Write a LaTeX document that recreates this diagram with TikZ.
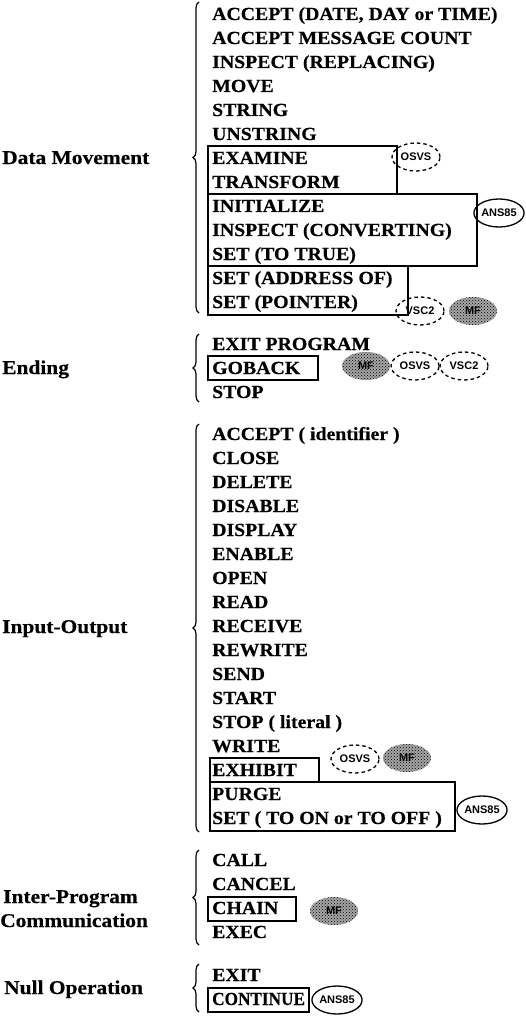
\documentclass[tikz,border=0pt]{standalone}
\usepackage{fontspec}
\setmainfont{Liberation Serif}
\newfontfamily\itemfont{Liberation Serif}[FakeStretch=1.07, FakeBold=0.4]
\newfontfamily\labelfont{Liberation Serif}[FakeStretch=1.1, FakeBold=0.4]
\newfontfamily\tagfont{Liberation Sans}
\usetikzlibrary{shapes.geometric, patterns, decorations.pathreplacing}

\begin{document}
\begin{tikzpicture}[
  x=1pt, y=-1pt,
  item/.style={anchor=base west, inner sep=0pt, font=\itemfont\bfseries\fontsize{18.5}{24}\selectfont},
  label/.style={anchor=base west, inner sep=0pt, font=\labelfont\bfseries\fontsize{19.5}{24}\selectfont},
  itembox/.style={draw=black, line width=1.4pt},
  curly/.style={decorate, decoration={brace, amplitude=6pt}, line width=1.2pt},
  tag/.style={ellipse, minimum width=48pt, minimum height=28pt, inner sep=0pt,
              font=\tagfont\bfseries\fontsize{11}{11}\selectfont},
  dashtag/.style={tag, draw, line width=1.3pt, dash pattern=on 3.5pt off 3pt},
  solidtag/.style={tag, draw, line width=1.3pt},
  mftag/.style={tag, text=black, preaction={fill=black!35}, pattern=crosshatch dots},
]
  \useasboundingbox (0,0) rectangle (526,1016);

  \foreach \txt [count=\i from 0] in {{ACCEPT (DATE, DAY or TIME)}, {ACCEPT MESSAGE COUNT},
      {INSPECT (REPLACING)}, MOVE, STRING, UNSTRING, EXAMINE, TRANSFORM, INITIALIZE,
      {INSPECT (CONVERTING)}, {SET (TO TRUE)}, {SET (ADDRESS OF)}, {SET (POINTER)}}
    \node[item] (dm\i) at (212, 20+24*\i) {\txt};

  \foreach \txt [count=\i from 0] in {EXIT PROGRAM, GOBACK, STOP}
    \node[item] (end\i) at (212, 350+24*\i) {\txt};

  \foreach \txt [count=\i from 0] in {{ACCEPT ( identifier )}, CLOSE, DELETE, DISABLE,
      DISPLAY, ENABLE, OPEN, READ, RECEIVE, REWRITE, SEND, START, {STOP ( literal )},
      WRITE, EXHIBIT, PURGE, {SET ( TO ON or TO OFF )}}
    \node[item] (io\i) at (212, 440+24*\i) {\txt};

  \foreach \txt [count=\i from 0] in {CALL, CANCEL, CHAIN, EXEC}
    \node[item] (ipc\i) at (212, 866+24*\i) {\txt};

  \node[item] (null0) at (212, 981) {EXIT};
  \node[item] (null1) at (212, 1005) {\scalebox{0.87}[1]{CONTINUE}};

  \node[label] (lbldm) at (2, 164) {Data Movement};
  \node[label] (lblend) at (2, 374) {Ending};
  \node[label] (lblio) at (2, 633) {Input-Output};
  \node[label] (lblipc) at (3, 903) {Inter-Program};
  \node[label] (lblcomm) at (0, 927) {Communication};
  \node[label] (lblnull) at (4, 994) {Null Operation};

  \draw[curly] (199,313) -- (199,2);
  \draw[curly] (199,402) -- (199,334);
  \draw[curly] (199,832) -- (199,424);
  \draw[curly] (199,945) -- (199,850);
  \draw[curly] (199,1012) -- (199,964);

  \draw[itembox] (208,146) rectangle (397,194);
  \draw[itembox] (208,194) rectangle (477,266);
  \draw[itembox] (208,266) rectangle (408,315);
  \draw[itembox] (208,356) rectangle (318,380);
  \draw[itembox] (210,758) rectangle (319,782);
  \draw[itembox] (210,782) rectangle (455,831);
  \draw[itembox] (208,897) rectangle (296,921);
  \draw[itembox] (208,988) rectangle (309,1012);

  \node[dashtag] (osvs1) at (416,157) {OSVS};
  \node[solidtag] (ans1) at (499,213) {ANS85};
  \node[dashtag] (vsc1) at (420,311) {VSC2};
  \node[mftag] (mf1) at (473,311) {MF};

  \node[mftag] (mf2) at (366,366) {MF};
  \node[dashtag] (osvs2) at (415,366) {OSVS};
  \node[dashtag] (vsc2) at (464,366) {VSC2};

  \node[dashtag] (osvs3) at (355,759) {OSVS};
  \node[mftag] (mf3) at (407,758) {MF};
  \node[solidtag] (ans3) at (482,810) {ANS85};

  \node[mftag] (mf4) at (334,911) {MF};
  \node[solidtag] (ans4) at (337,1000) {ANS85};
\end{tikzpicture}
\end{document}
